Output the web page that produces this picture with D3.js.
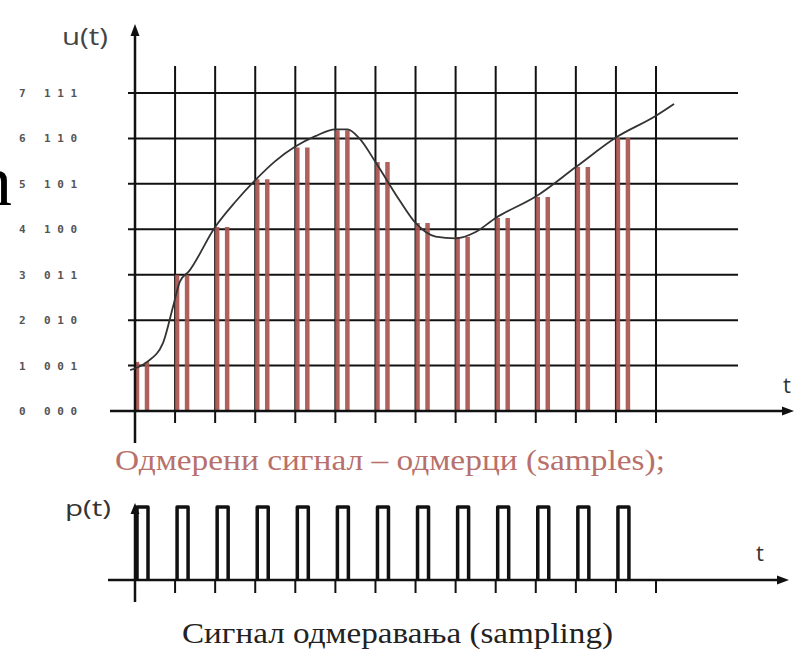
<!DOCTYPE html>
<html><head><meta charset="utf-8">
<script src="https://cdn.jsdelivr.net/npm/d3@7"></script>
<style>html,body{margin:0;padding:0;background:#fff;}svg{display:block;}</style>
</head><body>
<script>
// ---- data ----
const timeTicks = d3.range(0, 14);                 // t = 0 .. 13
const levels = [0, 1, 2, 3, 4, 5, 6, 7];
const levelLabels = ["0","1","2","3","4","5","6","7"];
const codeLabels = ["000","001","010","011","100","101","110","111"];
const sampleTimes = [0,1,2,3,4,5,6,7,8,9,10,11,12];
const sampleValues = [1.08,3.0,4.05,5.1,5.8,6.18,5.48,4.14,3.83,4.25,4.71,5.37,6.01];
const curveT = [-0.12,0.3,0.7,0.95,1.12,1.35,2.0,2.5,3.0,3.5,4.0,4.5,5.0,5.3,5.6,6.0,6.6,7.0,7.5,8.0,8.5,9.0,10.0,11.0,12.0,13.0,13.45];
const curveV = [0.9,1.08,1.5,2.3,2.85,3.08,4.05,4.6,5.08,5.5,5.82,6.05,6.2,6.2,6.0,5.48,4.64,4.14,3.84,3.8,3.94,4.25,4.72,5.37,6.02,6.5,6.76];
const pulseTimes = [0,1,2,3,4,5,6,7,8,9,10,11,12];
const captionTop = "Одмерени сигнал – одмерци (samples);";
const captionBottom = "Сигнал одмеравања (sampling)";

// ---- layout ----
const W = 800, H = 659;
const svg = d3.select("body").append("svg").attr("width", W).attr("height", H);
const x = d3.scaleLinear().domain([0, 13]).range([135, 656]);
const y = d3.scaleLinear().domain([0, 7]).range([411, 93]);
const yp = d3.scaleLinear().domain([0, 1]).range([580, 507]);

const BAR = "#a9554f";
const INK = "#111";

// big cropped letter at left edge
svg.append("text").attr("x", -24).attr("y", 205)
  .attr("font-family", "Liberation Serif, serif").attr("font-size", 72)
  .attr("fill", "#000").text("n");

// horizontal grid lines
svg.append("g").selectAll("line").data(levels.slice(1)).join("line")
  .attr("x1", 128).attr("x2", 738)
  .attr("y1", d => y(d)).attr("y2", d => y(d))
  .attr("stroke", INK).attr("stroke-width", 2);

// vertical grid lines
svg.append("g").selectAll("line").data(timeTicks.slice(1)).join("line")
  .attr("x1", d => x(d)).attr("x2", d => x(d))
  .attr("y1", 66).attr("y2", 423)
  .attr("stroke", INK).attr("stroke-width", 2);

// samples (two thin bars per sample)
const sg = svg.append("g");
sampleTimes.forEach((t, i) => {
  [2, 12].forEach(off => {
    sg.append("line")
      .attr("x1", x(t) + off).attr("x2", x(t) + off)
      .attr("y1", y(0)).attr("y2", y(sampleValues[i]))
      .attr("stroke", BAR).attr("stroke-width", 4.5).attr("opacity", 0.92);
  });
});

// axes (upper)
svg.append("line").attr("x1", 110).attr("x2", 786).attr("y1", y(0)).attr("y2", y(0))
  .attr("stroke", INK).attr("stroke-width", 2.5);
svg.append("line").attr("x1", x(0)).attr("x2", x(0)).attr("y1", 32).attr("y2", 443)
  .attr("stroke", INK).attr("stroke-width", 2.5);
svg.append("path").attr("d", `M${x(0)},24 L${x(0)-4.5},36 L${x(0)+4.5},36 Z`).attr("fill", INK);
svg.append("path").attr("d", `M794,${y(0)} L782,${y(0)-4.5} L782,${y(0)+4.5} Z`).attr("fill", INK);

// analog curve
const curveData = curveT.map((t, i) => [t, curveV[i]]);
svg.append("path").datum(curveData)
  .attr("d", d3.line().x(d => x(d[0])).y(d => y(d[1])).curve(d3.curveMonotoneX))
  .attr("fill", "none").attr("stroke", "#333").attr("stroke-width", 1.8);

// y labels
const lab = svg.append("g").attr("font-family", "DejaVu Sans Mono, monospace")
  .attr("font-size", 11).attr("font-weight", "bold").attr("fill", "#555");
lab.selectAll("text.d").data(levels).join("text").attr("class", "d")
  .attr("x", 19).attr("y", d => y(d) + 4).text((d, i) => levelLabels[i]);
lab.selectAll("text.c").data(levels).join("text").attr("class", "c")
  .attr("x", 44).attr("y", d => y(d) + 4)
  .attr("textLength", 33).attr("lengthAdjust", "spacing")
  .text((d, i) => codeLabels[i]);

// axis titles
svg.append("text").attr("x", 62).attr("y", 45)
  .attr("font-family", "Open Sans, sans-serif").attr("font-size", 24).attr("fill", "#444")
  .attr("textLength", 46).attr("lengthAdjust", "spacingAndGlyphs").text("u(t)");
svg.append("text").attr("x", 783).attr("y", 393)
  .attr("font-family", "Open Sans, sans-serif").attr("font-size", 22).attr("fill", "#333").text("t");

// caption top
svg.append("text").attr("x", 115).attr("y", 470)
  .attr("font-family", "Liberation Serif, serif").attr("font-size", 29).attr("fill", "#b8706b")
  .attr("textLength", 550).attr("lengthAdjust", "spacingAndGlyphs").text(captionTop);

// ---- lower chart ----
svg.append("line").attr("x1", 108).attr("x2", 782).attr("y1", yp(0)).attr("y2", yp(0))
  .attr("stroke", INK).attr("stroke-width", 2.5);
svg.append("line").attr("x1", x(0)).attr("x2", x(0)).attr("y1", 510).attr("y2", 602)
  .attr("stroke", INK).attr("stroke-width", 2.5);
svg.append("path").attr("d", `M${x(0)},503 L${x(0)-4.5},514 L${x(0)+4.5},514 Z`).attr("fill", INK);
svg.append("path").attr("d", `M789,${yp(0)} L777,${yp(0)-4.5} L777,${yp(0)+4.5} Z`).attr("fill", INK);
svg.append("g").selectAll("line").data(timeTicks.slice(1)).join("line")
  .attr("x1", d => x(d)).attr("x2", d => x(d))
  .attr("y1", yp(0)).attr("y2", 593)
  .attr("stroke", INK).attr("stroke-width", 2);

svg.append("g").selectAll("path").data(pulseTimes).join("path")
  .attr("d", t => `M${x(t)+2},${yp(0)} V${yp(1)} H${x(t)+13} V${yp(0)}`)
  .attr("fill", "none").attr("stroke", INK).attr("stroke-width", 3.5)
  .attr("stroke-linejoin", "round");

svg.append("text").attr("x", 65).attr("y", 516)
  .attr("font-family", "Open Sans, sans-serif").attr("font-size", 22).attr("fill", "#333")
  .attr("textLength", 46).attr("lengthAdjust", "spacingAndGlyphs").text("p(t)");
svg.append("text").attr("x", 756).attr("y", 561)
  .attr("font-family", "Open Sans, sans-serif").attr("font-size", 22).attr("fill", "#333").text("t");

svg.append("text").attr("x", 182).attr("y", 643)
  .attr("font-family", "Liberation Serif, serif").attr("font-size", 29).attr("fill", "#222")
  .attr("textLength", 431).attr("lengthAdjust", "spacingAndGlyphs").text(captionBottom);
</script>
</body></html>
